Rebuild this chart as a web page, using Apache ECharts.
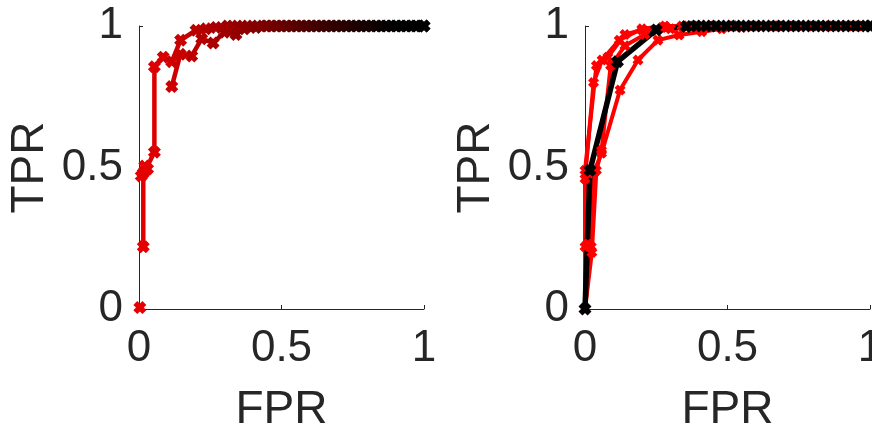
<!DOCTYPE html>
<html><head><meta charset="utf-8">
<script src="https://cdn.jsdelivr.net/npm/echarts@6/dist/echarts.min.js"></script>
<style>html,body{margin:0;padding:0;background:#fff}#c{width:872px;height:435px}</style>
</head><body><div id="c"></div>
<script>
// ---- data ----
const xTicks = [0, 0.5, 1];
const yTicks = [0, 0.5, 1];
const xName = 'FPR';
const yName = 'TPR';

// left panel curves
const leftOrigin = [[0.003, 0.005]];
const leftA = [[0.015,0.22],[0.015,0.48],[0.022,0.49],[0.054,0.554],[0.054,0.856],[0.085,0.89],[0.115,0.874],[0.146,0.95],[0.2,0.985],[0.235,0.99],[0.27,0.995],[0.31,1],[0.345,1],[0.38,1],[0.415,1],[0.45,1],[0.485,1],[0.52,1],[0.555,1],[0.59,1],[0.625,1],[0.66,1],[0.695,1],[0.73,1],[0.765,1],[0.8,1],[0.835,1],[0.87,1],[0.905,1],[0.94,1],[0.975,1],[1,1]];
const leftB = [[0.008,0.47],[0.03,0.495],[0.02,0.505]];
const leftC = [[0.115,0.786],[0.145,0.9],[0.185,0.894],[0.22,0.955],[0.26,0.94],[0.3,0.978],[0.34,0.97],[0.37,0.99],[0.41,0.995],[0.445,1],[0.48,1],[0.515,1],[0.55,1],[0.585,1],[0.62,1],[0.655,1],[0.69,1],[0.725,1],[0.76,1],[0.795,1],[0.83,1],[0.865,1],[0.9,1],[0.935,1],[0.97,1],[1,1]];

// right panel curves
const rightR1 = [[0,0],[0.022,0.22],[0.03,0.48],[0.058,0.55],[0.123,0.774],[0.186,0.88],[0.256,0.95],[0.33,0.968],[0.41,0.98],[0.48,0.99],[0.55,0.995],[0.62,1],[0.69,1],[0.76,1],[0.83,1],[0.9,1],[0.96,1],[1,1]];
const rightR2 = [[0,0],[0,0.22],[0,0.49],[0.04,0.86],[0.08,0.89],[0.14,0.97],[0.2,0.986],[0.27,0.995],[0.34,1],[0.41,1],[0.48,1],[0.55,1],[0.62,1],[0.69,1],[0.76,1],[0.83,1],[0.9,1],[0.97,1],[1,1]];
const rightR3 = [[0,0],[0.024,0.2],[0.04,0.49],[0.058,0.56],[0.09,0.86],[0.14,0.93],[0.21,0.97],[0.3,0.99],[0.38,1],[0.45,1],[0.52,1],[0.59,1],[0.66,1],[0.73,1],[0.8,1],[0.87,1],[0.94,1],[1,1]];
const rightR4 = [[0,0],[0.01,0.23],[0,0.46],[0.03,0.8],[0.06,0.88],[0.12,0.95],[0.2,0.99],[0.28,1],[0.36,1],[0.44,1],[0.52,1],[0.6,1],[0.68,1],[0.76,1],[0.84,1],[0.92,1],[1,1]];
const rightMean = [[0,0],[0.0175,0.49],[0.114,0.874],[0.25,0.986],[0.355,0.998],[0.39,1],[0.425,1],[0.46,1],[0.495,1],[0.53,1],[0.565,1],[0.6,1],[0.635,1],[0.67,1],[0.705,1],[0.74,1],[0.775,1],[0.81,1],[0.845,1],[0.88,1],[0.915,1],[0.95,1],[0.985,1],[1,1]];

// ---- chart ----
const TXT = '#262626';
const FONT = 'Liberation Sans, Arial, sans-serif';
const XSYM = 'path://M0,3 L3,0 L5,2 L7,0 L10,3 L8,5 L10,7 L7,10 L5,8 L3,10 L0,7 L2,5 Z';

function xAx(i){
  return {gridIndex:i, type:'value', min:xTicks[0], max:xTicks[xTicks.length-1], interval:0.5,
    name:xName, nameLocation:'middle', nameGap:78,
    nameTextStyle:{fontSize:46, color:TXT, fontFamily:FONT},
    axisLine:{show:true, lineStyle:{color:TXT, width:1}},
    axisTick:{show:true, inside:true, length:4, lineStyle:{color:TXT}},
    axisLabel:{fontSize:44, color:TXT, fontFamily:FONT, margin:18, formatter:v=>String(v)},
    splitLine:{show:false}};
}
function yAx(i){
  return {gridIndex:i, type:'value', min:yTicks[0], max:yTicks[yTicks.length-1], interval:0.5,
    name:yName, nameLocation:'middle', nameGap:86, nameRotate:90,
    nameTextStyle:{fontSize:46, color:TXT, fontFamily:FONT},
    axisLine:{show:true, lineStyle:{color:TXT, width:1}},
    axisTick:{show:true, inside:true, length:4, lineStyle:{color:TXT}},
    axisLabel:{fontSize:44, color:TXT, fontFamily:FONT, margin:16, formatter:v=>String(v)},
    splitLine:{show:false}};
}
function ln(data, gi, color, width, size){
  const s = {type:'line', xAxisIndex:gi, yAxisIndex:gi, data:data, symbol:XSYM, symbolSize:size,
    showSymbol:true, animation:false, silent:true, clip:false,
    lineStyle:{width:width}, itemStyle:{borderWidth:0}};
  if (color){ s.lineStyle.color = color; s.itemStyle.color = color; }
  return s;
}

const chart = echarts.init(document.getElementById('c'), null, {renderer:'canvas'});
chart.setOption({
  backgroundColor:'#fff',
  animation:false,
  grid:[
    {left:139, top:26, width:285, height:283, containLabel:false, outerBoundsMode:'none'},
    {left:585, top:26, width:285, height:283, containLabel:false, outerBoundsMode:'none'}
  ],
  xAxis:[xAx(0), xAx(1)],
  yAxis:[yAx(0), yAx(1)],
  visualMap:[{type:'continuous', show:false, dimension:0, seriesIndex:[0,1,2,3], min:0, max:0.9,
    inRange:{color:['#e80000','#c80000','#a00000','#780000','#480000','#200000','#000000']}}],
  series:[
    ln(leftOrigin,0,null,4.5,13),
    ln(leftB,0,null,4.5,13),
    ln(leftA,0,null,4.5,13),
    ln(leftC,0,null,4.5,13),
    ln(rightR1,1,'#ff0000',4,11),
    ln(rightR2,1,'#ff0000',4,11),
    ln(rightR3,1,'#ff0000',4,11),
    ln(rightR4,1,'#ff0000',4,11),
    ln(rightMean,1,'#000000',5.5,13)
  ]
});
</script></body></html>
